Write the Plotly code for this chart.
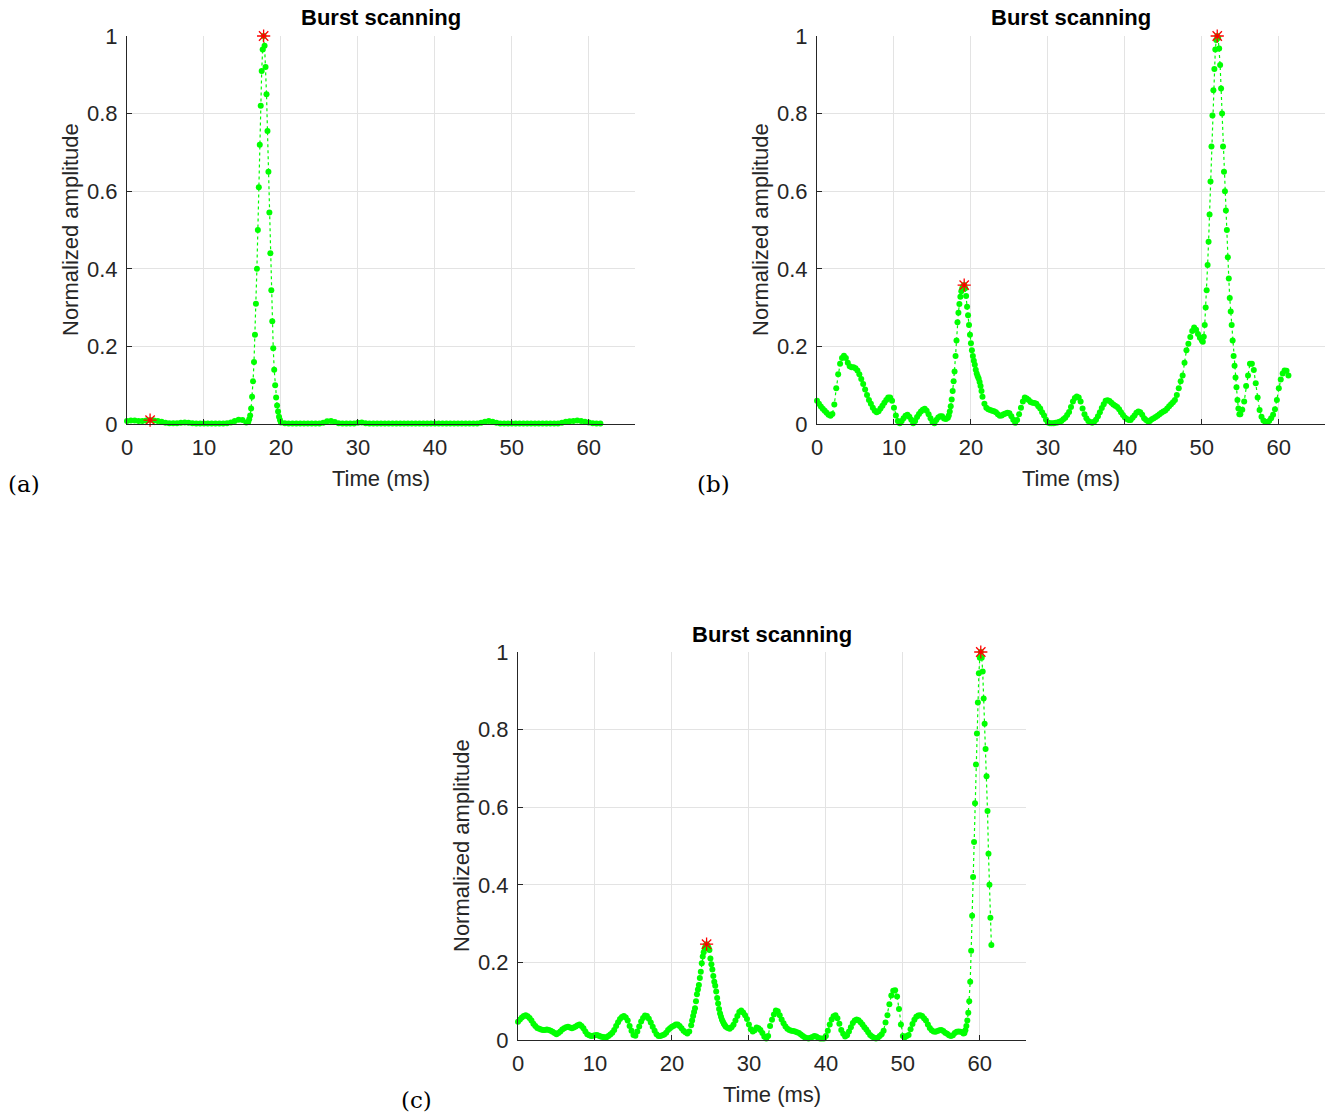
import plotly.graph_objects as go

# ---------------- data (Time in ms, normalized amplitude) ----------------
# Each panel is stored as segments: start time, sample step, amplitude values
a_starts = [0.0, 15.75, 20.5]
a_steps = [0.5, 0.125, 0.5]
a_seg1 = [0.008, 0.009, 0.009, 0.008, 0.008, 0.009, 0.010, 0.009,
          0.008, 0.006, 0.003, 0.002, 0.002, 0.002, 0.003, 0.004,
          0.003, 0.002, 0.001, 0.001, 0.001, 0.001, 0.001, 0.001,
          0.001, 0.001, 0.002, 0.004, 0.008, 0.011, 0.010, 0.004]
a_seg2 = [0.005, 0.012, 0.022, 0.040, 0.070, 0.110, 0.160, 0.230,
          0.310, 0.400, 0.500, 0.610, 0.720, 0.820, 0.910, 0.965,
          1.000, 0.975, 0.920, 0.850, 0.755, 0.650, 0.545, 0.440,
          0.345, 0.265, 0.195, 0.140, 0.100, 0.068, 0.048, 0.032,
          0.019, 0.010, 0.004]
a_seg3 = [0.002, 0.001, 0.001, 0.001, 0.001, 0.001, 0.001, 0.001, 0.001, 0.001,
          0.003, 0.007, 0.008, 0.005, 0.002, 0.001, 0.001, 0.001, 0.001, 0.003,
          0.004, 0.002,
          0.001, 0.001, 0.001, 0.001, 0.001, 0.001, 0.001, 0.001, 0.001, 0.001,
          0.001, 0.001, 0.001, 0.001, 0.001, 0.001, 0.001, 0.001, 0.001, 0.001,
          0.001, 0.001, 0.001, 0.001, 0.001, 0.001, 0.001, 0.001, 0.001,
          0.003, 0.006, 0.008, 0.006, 0.003,
          0.001, 0.001, 0.001, 0.001, 0.001, 0.001, 0.001, 0.001,
          0.001, 0.001, 0.001, 0.001, 0.001, 0.001, 0.001, 0.001,
          0.003, 0.006, 0.007, 0.008, 0.009, 0.008, 0.006, 0.004, 0.002, 0.001, 0.001]
a_peak_t = [3.0, 17.75]
a_peak_v = [0.010, 1.000]

b_starts = [0.0, 17.0, 21.5, 50.0, 55.0]
b_steps = [0.25, 0.125, 0.25, 0.125, 0.25]
b_seg1 = [0.060, 0.052, 0.045, 0.039, 0.034, 0.029, 0.024, 0.021,
          0.026, 0.050, 0.092, 0.128, 0.155, 0.170, 0.176, 0.170,
          0.158, 0.149, 0.146, 0.146, 0.144, 0.138, 0.128, 0.116,
          0.103, 0.089, 0.075, 0.062, 0.052, 0.042, 0.034, 0.030,
          0.033, 0.040, 0.047, 0.055, 0.062, 0.068, 0.068, 0.060,
          0.042, 0.022, 0.008, 0.002, 0.008, 0.015, 0.021, 0.024,
          0.019, 0.011, 0.002, 0.008, 0.018, 0.026, 0.032, 0.037,
          0.039, 0.034, 0.025, 0.015, 0.006, 0.002, 0.010, 0.017,
          0.020, 0.020, 0.014, 0.013]
b_seg2 = [0.016, 0.022, 0.032, 0.046, 0.063, 0.085, 0.110, 0.135,
          0.175, 0.215, 0.262, 0.287, 0.309, 0.328, 0.342, 0.350,
          0.355, 0.358, 0.350, 0.330, 0.302, 0.280, 0.255, 0.230,
          0.208, 0.190, 0.175, 0.163, 0.153, 0.140, 0.130, 0.123,
          0.117, 0.108, 0.098, 0.085]
b_seg3 = [0.070, 0.052, 0.042, 0.038, 0.036, 0.034, 0.033, 0.030,
          0.025, 0.021, 0.022, 0.025, 0.027, 0.029, 0.028, 0.020,
          0.011, 0.003, 0.010, 0.025, 0.042, 0.058, 0.068, 0.066,
          0.062, 0.057, 0.055, 0.054, 0.052, 0.046, 0.040, 0.030,
          0.022, 0.011, 0.004, 0.002, 0.002, 0.002, 0.003, 0.004,
          0.006, 0.008, 0.012, 0.016, 0.023, 0.031, 0.044, 0.058,
          0.067, 0.071, 0.068, 0.058, 0.040, 0.025, 0.015, 0.008,
          0.005, 0.003, 0.006, 0.011, 0.020, 0.030, 0.041, 0.051,
          0.060, 0.061, 0.059, 0.055, 0.050, 0.047, 0.044, 0.038,
          0.030, 0.023, 0.017, 0.013, 0.010, 0.010, 0.016, 0.022,
          0.029, 0.032, 0.030, 0.024, 0.015, 0.010, 0.007, 0.008,
          0.012, 0.015, 0.018, 0.021, 0.025, 0.029, 0.032, 0.035,
          0.040, 0.046, 0.051, 0.056, 0.062, 0.075, 0.092, 0.110,
          0.125, 0.158, 0.190, 0.207, 0.224, 0.240, 0.249, 0.243,
          0.232, 0.222]
b_seg4 = [0.215, 0.212, 0.225, 0.255, 0.300, 0.345, 0.410, 0.470,
          0.540, 0.625, 0.715, 0.795, 0.860, 0.915, 0.965, 0.990,
          1.000, 0.995, 0.968, 0.925, 0.865, 0.800, 0.715, 0.650,
          0.600, 0.550, 0.500, 0.430, 0.375, 0.325, 0.290, 0.255,
          0.215, 0.175, 0.150, 0.120, 0.095, 0.062, 0.040, 0.025]
b_seg5 = [0.025, 0.037, 0.058, 0.098, 0.125, 0.155, 0.155, 0.139,
          0.105, 0.068, 0.036, 0.019, 0.009, 0.005, 0.005, 0.008,
          0.015, 0.024, 0.038, 0.062, 0.092, 0.115, 0.130, 0.138,
          0.137, 0.125]
b_peak_t = [19.125, 52.0]
b_peak_v = [0.358, 1.000]

c_starts = [0.0, 22.5, 27.0, 57.75]
c_steps = [0.25, 0.125, 0.25, 0.125]
c_seg1 = [0.047, 0.053, 0.058, 0.062, 0.064, 0.061, 0.057, 0.050,
          0.042, 0.036, 0.031, 0.029, 0.027, 0.026, 0.026, 0.027,
          0.026, 0.024, 0.021, 0.018, 0.015, 0.018, 0.022, 0.027,
          0.030, 0.033, 0.034, 0.032, 0.030, 0.032, 0.035, 0.038,
          0.040, 0.036, 0.030, 0.022, 0.015, 0.012, 0.010, 0.011,
          0.012, 0.013, 0.011, 0.009, 0.008, 0.007, 0.007, 0.010,
          0.014, 0.019, 0.026, 0.036, 0.046, 0.054, 0.059, 0.062,
          0.058, 0.050, 0.036, 0.024, 0.013, 0.011, 0.022, 0.035,
          0.048, 0.057, 0.063, 0.062, 0.055, 0.045, 0.034, 0.024,
          0.015, 0.010, 0.010, 0.012, 0.014, 0.019, 0.026, 0.030,
          0.034, 0.037, 0.040, 0.040, 0.036, 0.030, 0.024, 0.020,
          0.017, 0.022]
c_seg2 = [0.038, 0.050, 0.062, 0.072, 0.082, 0.100, 0.118, 0.130,
          0.142, 0.160, 0.176, 0.198, 0.215, 0.226, 0.236, 0.243,
          0.247, 0.243, 0.238, 0.232, 0.210, 0.195, 0.182, 0.165,
          0.150, 0.140, 0.125, 0.108, 0.094, 0.080, 0.068, 0.060,
          0.052, 0.047, 0.042, 0.038]
c_seg3 = [0.034, 0.031, 0.029, 0.033, 0.039, 0.050, 0.062, 0.072,
          0.076, 0.071, 0.064, 0.054, 0.040, 0.028, 0.022, 0.025,
          0.032, 0.030, 0.026, 0.018, 0.009, 0.004, 0.010, 0.036,
          0.052, 0.066, 0.076, 0.074, 0.064, 0.053, 0.043, 0.035,
          0.029, 0.026, 0.024, 0.023, 0.022, 0.020, 0.018, 0.014,
          0.010, 0.007, 0.005, 0.004, 0.006, 0.008, 0.010, 0.009,
          0.006, 0.004, 0.004, 0.004, 0.010, 0.024, 0.040, 0.053,
          0.061, 0.064, 0.056, 0.042, 0.026, 0.016, 0.009, 0.012,
          0.022, 0.033, 0.044, 0.050, 0.053, 0.051, 0.046, 0.040,
          0.033, 0.027, 0.020, 0.013, 0.009, 0.006, 0.004, 0.006,
          0.010, 0.015, 0.024, 0.045, 0.064, 0.092, 0.115, 0.127,
          0.128, 0.112, 0.080, 0.040, 0.010, 0.007, 0.010, 0.013,
          0.028, 0.041, 0.052, 0.060, 0.063, 0.064, 0.062, 0.056,
          0.050, 0.040, 0.031, 0.025, 0.022, 0.021, 0.023, 0.025,
          0.026, 0.023, 0.019, 0.016, 0.012, 0.010, 0.012, 0.018,
          0.021, 0.022, 0.021]
c_seg4 = [0.020, 0.017, 0.018, 0.025, 0.036, 0.050, 0.070, 0.100,
          0.150, 0.230, 0.320, 0.420, 0.510, 0.610, 0.710, 0.790,
          0.870, 0.945, 0.985, 1.000, 0.985, 0.950, 0.880, 0.815,
          0.750, 0.680, 0.590, 0.480, 0.400, 0.315, 0.245]
c_peak_t = [24.5, 60.125]
c_peak_v = [0.247, 1.000]

x_ticks = [0, 10, 20, 30, 40, 50, 60]
y_ticks = [0, 0.2, 0.4, 0.6, 0.8, 1]
title_text = "Burst scanning"
x_label = "Time (ms)"
y_label = "Normalized amplitude"
panel_labels = ["(a)", "(b)", "(c)"]


def assemble(starts, steps, segs):
    t, v = [], []
    for s0, st, vals in zip(starts, steps, segs):
        for i, val in enumerate(vals):
            t.append(round(s0 + i * st, 4))
            v.append(val)
    return t, v


panels = [
    assemble(a_starts, a_steps, [a_seg1, a_seg2, a_seg3]) + (a_peak_t, a_peak_v),
    assemble(b_starts, b_steps, [b_seg1, b_seg2, b_seg3, b_seg4, b_seg5]) + (b_peak_t, b_peak_v),
    assemble(c_starts, c_steps, [c_seg1, c_seg2, c_seg3, c_seg4]) + (c_peak_t, c_peak_v),
]

W, H = 1327, 1116
# pixel boxes of axes: (left, right, top, bottom)
boxes = [(127, 635, 36, 424), (817, 1325, 36, 424), (518, 1026, 652, 1040)]
titles_y = [18, 18, 634]

GREEN = "#00ff00"
AX = "#262626"
FONT = "Liberation Sans, Arial, sans-serif"
FS = 22

fig = go.Figure()
annotations = []
for k, ((t, v, pt, pv), (l, r, tp, bt)) in enumerate(zip(panels, boxes)):
    xa = "x" if k == 0 else f"x{k+1}"
    ya = "y" if k == 0 else f"y{k+1}"
    fig.add_trace(go.Scatter(
        x=t, y=v, mode="lines+markers", xaxis=xa, yaxis=ya,
        line=dict(color=GREEN, width=1.2, dash="dot"),
        marker=dict(color=GREEN, size=6, line=dict(width=0)),
        cliponaxis=False, showlegend=False, hoverinfo="x+y"))
    fig.add_trace(go.Scatter(
        x=pt, y=pv, mode="markers", xaxis=xa, yaxis=ya,
        marker=dict(symbol="asterisk-open", color="red", size=11,
                    line=dict(color="red", width=1.3)),
        cliponaxis=False, showlegend=False))
    axis_common = dict(showline=True, linecolor=AX, linewidth=1,
                       ticks="inside", ticklen=5, tickcolor=AX,
                       showgrid=True, gridcolor="#e3e3e3", gridwidth=1,
                       zeroline=False, automargin=False,
                       tickfont=dict(family=FONT, size=FS, color=AX))
    xname = "xaxis" if k == 0 else f"xaxis{k+1}"
    yname = "yaxis" if k == 0 else f"yaxis{k+1}"
    fig.layout[xname] = dict(axis_common, domain=[l / W, r / W], range=[0, 66],
                             tickvals=x_ticks, anchor=ya, ticklabelstandoff=4)
    fig.layout[yname] = dict(axis_common, domain=[1 - bt / H, 1 - tp / H], range=[0, 1],
                             tickvals=y_ticks, anchor=xa, ticklabelstandoff=4)
    cx = (l + r) / 2
    annotations.append(dict(text=f"<b>{title_text}</b>", x=cx / W, y=1 - titles_y[k] / H,
                            xref="paper", yref="paper", showarrow=False,
                            font=dict(family=FONT, size=FS, color="#000000"),
                            xanchor="center", yanchor="middle"))
    annotations.append(dict(text=x_label, x=cx / W, y=1 - (bt + 54) / H,
                            xref="paper", yref="paper", showarrow=False,
                            font=dict(family=FONT, size=FS, color=AX),
                            xanchor="center", yanchor="middle"))
    annotations.append(dict(text=y_label, x=(l - 57) / W, y=1 - ((tp + bt) / 2) / H,
                            xref="paper", yref="paper", showarrow=False, textangle=-90,
                            font=dict(family=FONT, size=FS, color=AX),
                            xanchor="center", yanchor="middle"))

label_pos = [(24, 484), (713, 484), (416, 1100)]
for lab, (px, py) in zip(panel_labels, label_pos):
    annotations.append(dict(text=lab, x=px / W, y=1 - py / H, xref="paper", yref="paper",
                            showarrow=False, xanchor="center", yanchor="middle",
                            font=dict(family="DejaVu Serif, serif", size=23, color="#000000")))

fig.update_layout(width=W, height=H, margin=dict(l=0, r=0, t=0, b=0),
                  paper_bgcolor="white", plot_bgcolor="white",
                  annotations=annotations, showlegend=False)

fig.write_html("out.html", config={"displayModeBar": False},
               post_script="document.body.style.margin='0';document.body.style.overflow='hidden';")
